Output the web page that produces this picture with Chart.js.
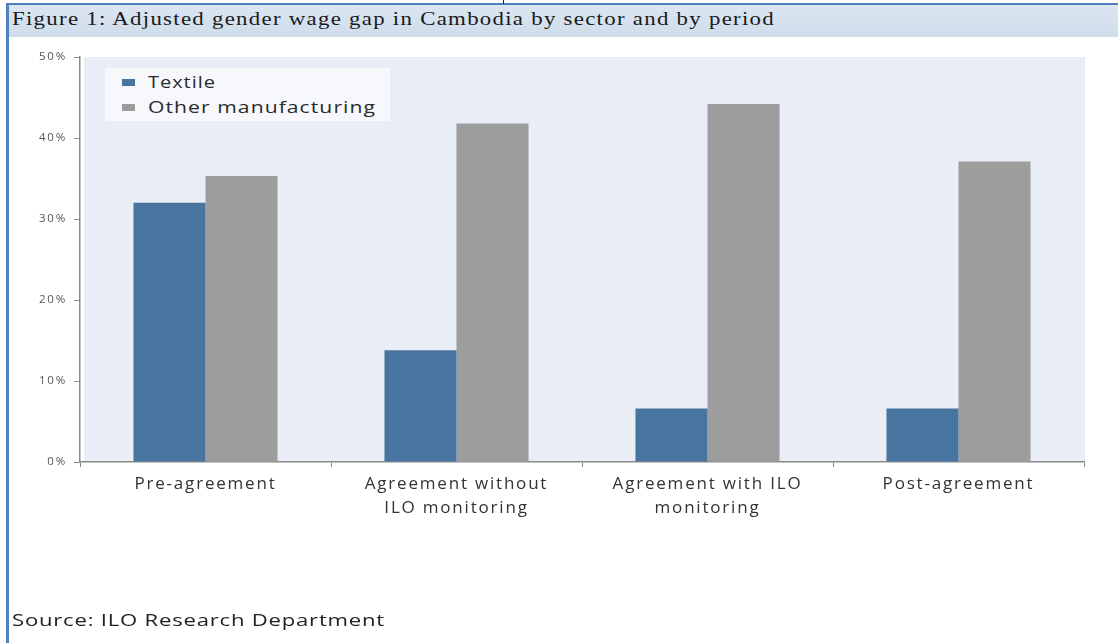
<!DOCTYPE html>
<html>
<head>
<meta charset="utf-8">
<script src="https://cdn.jsdelivr.net/npm/chart.js@4.4.1/dist/chart.umd.min.js"></script>
<style>
  html, body { margin: 0; padding: 0; background: #ffffff; }
  #page { position: relative; width: 1118px; height: 643px; overflow: hidden; background: #ffffff; }
  #frameLeft { position: absolute; left: 6px; top: 4px; width: 3px; height: 639px; background: #4f81bd; }
  #frameTop { position: absolute; left: 6px; top: 3px; width: 1112px; height: 2px; background: #4f81bd; }
  #topMark { position: absolute; left: 503px; top: 0; width: 1px; height: 4px; background: #222; }
  #titleBar {
    position: absolute; left: 9px; top: 5px; width: 1109px; height: 32px;
    background: linear-gradient(#dbe6f1, #cfdceb);
  }
  .fit { transform-origin: 0 50%; display: inline-block; white-space: nowrap; }
  #title {
    position: absolute; left: 12px; top: 9px; margin: 0;
    font-family: "Liberation Serif", "DejaVu Serif", serif; font-size: 18px;
    color: #1a1a1a; letter-spacing: 1px; font-weight: normal;
  }
  #chartWrap { position: absolute; left: 0; top: 0; width: 1118px; height: 643px; }
  #legend {
    position: absolute; left: 105px; top: 68px; width: 285px; height: 53px;
    background: #f7f8fc; font-family: "Open Sans", sans-serif; font-size: 16px;
    color: #2a2a2a; letter-spacing: 0.8px;
  }
  .legend-item { position: absolute; left: 17px; white-space: nowrap; height: 20px; line-height: 20px; }
  .legend-swatch { position: absolute; left: 0; top: 7px; width: 13px; height: 7px; }
  .legend-text { position: absolute; left: 26px; top: 0; }
  #source {
    position: absolute; left: 12px; top: 608px; font-family: "Open Sans", sans-serif;
    font-size: 17px; color: #222; letter-spacing: 0.6px;
  }
</style>
</head>
<body>
<div id="page">
  <div id="titleBar"></div>
  <div id="title" class="fit">Figure 1: Adjusted gender wage gap in Cambodia by sector and by period</div>
  <div id="frameTop"></div>
  <div id="frameLeft"></div>
  <div id="topMark"></div>
  <div id="chartWrap"><canvas id="gapChart" width="1118" height="643"></canvas></div>
  <div id="legend"></div>
  <div id="source" class="fit">Source: ILO Research Department</div>
</div>
<script>
  // values (percent)
  const categories = [
    "Pre-agreement",
    ["Agreement without", "ILO monitoring"],
    ["Agreement with ILO", "monitoring"],
    "Post-agreement",
  ];
  const seriesNames = ["Textile", "Other manufacturing"];
  const textileGap = [32.0, 13.8, 6.6, 6.6];
  const otherGap = [35.3, 41.8, 44.2, 37.1];
  const yTicks = [0, 10, 20, 30, 40, 50];

  const colors = ["#48759f", "#9d9d9d"];

  // stretch a text element horizontally to the width it has in the figure
  function fitWidth(el, target) {
    const w = el.getBoundingClientRect().width;
    if (w > 0) el.style.transform = "scaleX(" + (target / w) + ")";
  }

  const plotBackground = {
    id: "plotBackground",
    beforeDraw(chart) {
      const { ctx, chartArea } = chart;
      ctx.letterSpacing = "1.8px";
      ctx.save();
      ctx.fillStyle = "#e9edf6";
      ctx.fillRect(chartArea.left + 4, chartArea.top, chartArea.right - chartArea.left - 3, chartArea.bottom - chartArea.top);
      ctx.restore();
    },
  };

  const chart = new Chart(document.getElementById("gapChart"), {
    type: "bar",
    data: {
      labels: categories,
      datasets: [
        { label: seriesNames[0], data: textileGap, backgroundColor: colors[0] },
        { label: seriesNames[1], data: otherGap, backgroundColor: colors[1] },
      ],
    },
    options: {
      responsive: false,
      animation: false,
      devicePixelRatio: 1,
      layout: { padding: { left: 0, right: 34, top: 57, bottom: 81 } },
      datasets: { bar: { categoryPercentage: 0.574, barPercentage: 1.0 } },
      plugins: { legend: { display: false }, tooltip: { enabled: false } },
      scales: {
        x: {
          afterFit(scale) { scale.height = 100; },
          grid: { drawOnChartArea: false, drawTicks: true, tickLength: 5, color: "#8a8a8a", offset: true },
          border: { display: true, color: "#8a8a8a", width: 1.5 },
          ticks: {
            color: "#333333",
            padding: 5,
            maxRotation: 0,
            autoSkip: false,
            font: { family: "'Open Sans', sans-serif", size: 17, lineHeight: 1.4 },
          },
        },
        y: {
          min: 0,
          max: 50,
          afterFit(scale) { scale.width = 80; },
          afterBuildTicks(scale) { scale.ticks = yTicks.map((v) => ({ value: v })); },
          grid: { drawOnChartArea: false, drawTicks: true, tickLength: 6, color: "#8a8a8a" },
          border: { display: true, color: "#8a8a8a", width: 1.5 },
          ticks: {
            color: "#555555",
            padding: 7,
            font: { family: "'Open Sans', sans-serif", size: 11.5 },
            callback: (v) => v + "%",
          },
        },
      },
    },
    plugins: [plotBackground],
  });

  // legend box drawn as html from the datasets
  const legendEl = document.getElementById("legend");
  const legendWidths = [68, 228];
  chart.data.datasets.forEach((ds, i) => {
    const item = document.createElement("div");
    item.className = "legend-item";
    item.style.top = (4 + i * 25) + "px";
    item.innerHTML = '<span class="legend-swatch" style="background:' + ds.backgroundColor + '"></span>' +
      '<span class="legend-text fit">' + ds.label + "</span>";
    legendEl.appendChild(item);
    fitWidth(item.querySelector(".legend-text"), legendWidths[i]);
  });

  fitWidth(document.getElementById("title"), 763);
  fitWidth(document.getElementById("source"), 373);
</script>
</body>
</html>
